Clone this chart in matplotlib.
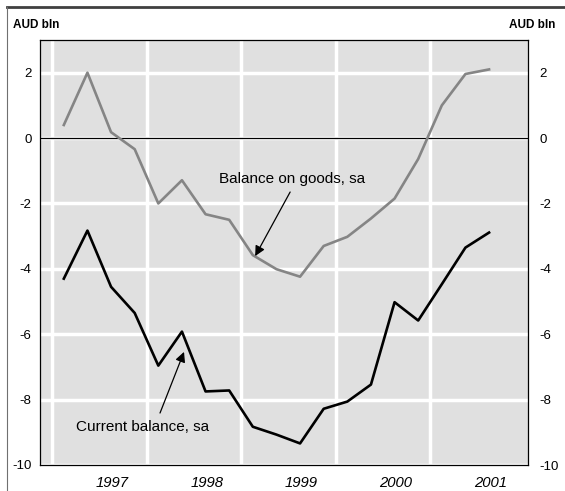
import matplotlib
matplotlib.use("Agg")
from matplotlib import pyplot as plt
from matplotlib.lines import Line2D
import numpy as np

plt.rcParams["font.family"] = ["Liberation Sans", "DejaVu Sans"]

# quarterly data, 1997Q1 .. 2001Q3
years = [1997] * 4 + [1998] * 4 + [1999] * 4 + [2000] * 4 + [2001] * 3
quarters = [1, 2, 3, 4] * 4 + [1, 2, 3]
goods = [0.40, 2.00, 0.18, -0.34, -2.00, -1.29, -2.33, -2.50, -3.58, -4.01,
         -4.24, -3.30, -3.02, -2.46, -1.85, -0.64, 1.00, 1.96, 2.10]
current = [-4.30, -2.83, -4.55, -5.35, -6.96, -5.92, -7.75, -7.72, -8.83, -9.07,
           -9.34, -8.28, -8.06, -7.54, -5.02, -5.58, -4.47, -3.35, -2.89]
year_labels = ["1997", "1998", "1999", "2000", "2001"]
y_ticks = [-10, -8, -6, -4, -2, 0, 2]

x = np.array(years) + (np.array(quarters) - 0.5) / 4

fig = plt.figure(figsize=(5.65, 4.91), dpi=100)
ax = fig.add_axes([40 / 565, 26 / 491, 488 / 565, 425 / 491])
ax.set_facecolor("#e0e0e0")

ax.set_xlim(1996.873, 2002.037)
ax.set_ylim(-10, 3)

# gridlines at year boundaries, labels offset into the year
ax.set_xticks([int(y) for y in year_labels])
ax.set_xticklabels([])
ax.set_xticks([int(y) + 0.64 for y in year_labels], minor=True)
ax.set_xticklabels(year_labels, minor=True, fontstyle="italic", fontsize=10.7)
ax.tick_params(axis="x", which="both", length=0)
ax.tick_params(axis="x", which="minor", pad=8)

ax.set_yticks(y_ticks)
ax.set_yticklabels([str(v) for v in y_ticks])
ax.tick_params(axis="y", length=0, labelsize=9.5, pad=6)

ax.grid(True, which="major", color="white", lw=2.5)
ax.set_axisbelow(True)
ax.axhline(0, color="black", lw=0.9, zorder=2)

for sp in ax.spines.values():
    sp.set_linewidth(0.9)
    sp.set_color("black")

# right-hand scale
ax2 = ax.twinx()
ax2.set_ylim(ax.get_ylim())
ax2.set_yticks(y_ticks)
ax2.set_yticklabels([str(v) for v in y_ticks])
ax2.tick_params(axis="y", length=0, labelsize=9.5, pad=8)
for sp in ax2.spines.values():
    sp.set_visible(False)

ax.plot(x, goods, color="#858585", lw=1.9, zorder=3)
ax.plot(x, current, color="black", lw=1.9, zorder=3)

# annotations
ax.text(1999.536, -1.374, "Balance on goods, sa", ha="center", va="baseline", fontsize=11)
ax.annotate("", xy=(1999.15, -3.61), xytext=(1999.52, -1.65),
            arrowprops=dict(arrowstyle="-|>", color="black", lw=0.9,
                            mutation_scale=15, shrinkA=0, shrinkB=0))
ax.text(1997.254, -8.96, "Current balance, sa", ha="left", va="baseline", fontsize=11)
ax.annotate("", xy=(1998.397, -6.54), xytext=(1998.143, -8.41),
            arrowprops=dict(arrowstyle="-|>", color="black", lw=0.9,
                            mutation_scale=15, shrinkA=0, shrinkB=0))

# units labels
fig.text(13 / 565, 1 - 25 / 491, "AUD bln", ha="left", va="center",
         fontsize=8.5, fontweight="bold")
fig.text(555 / 565, 1 - 25 / 491, "AUD bln", ha="right", va="center",
         fontsize=8.5, fontweight="bold")

# outer frame lines
fig.add_artist(Line2D([7 / 565, 1], [1 - 7 / 491, 1 - 7 / 491],
                      transform=fig.transFigure, color="#404040", lw=2))
fig.add_artist(Line2D([7 / 565, 7 / 565], [0, 1 - 7 / 491],
                      transform=fig.transFigure, color="#707070", lw=0.8))

fig.savefig("out.png", dpi=100)
